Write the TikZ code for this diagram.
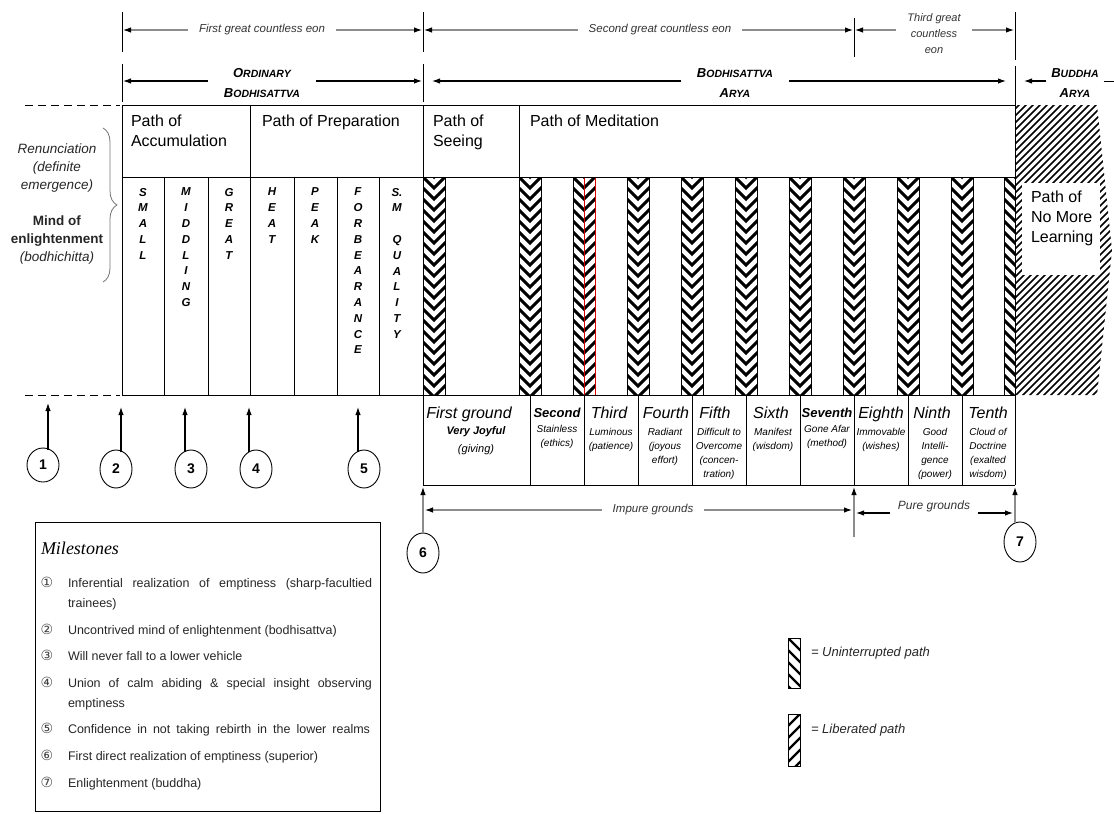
\documentclass[tikz,border=0pt]{standalone}
\usepackage{fontspec}
\setmainfont{Liberation Sans}
\newfontfamily\dejavu{DejaVu Sans}
\newfontfamily\msserif{Liberation Serif}
\usetikzlibrary{arrows.meta,shapes.geometric,decorations.pathreplacing}

\newcommand\smc[2]{{\fontsize{13}{20}\selectfont #1}{\fontsize{10.5}{20}\selectfont #2}}

\newcommand\hatchU[4]{%
  \begin{scope}
    \clip ({#1},{#2}) rectangle ({#3},{#4});
    \foreach \t in {0,11,...,242}
      \draw[hatchline] ({#3-24},{#2+\t-24}) -- ({#3+2},{#2+\t+2});
  \end{scope}}
\newcommand\hatchL[4]{%
  \begin{scope}
    \clip ({#1},{#2}) rectangle ({#3},{#4});
    \foreach \t in {0,11,...,242}
      \draw[hatchline] ({#1-2},{#2+\t+2}) -- ({#1+24},{#2+\t-24});
  \end{scope}}
\newcommand\pairat[1]{%
  \hatchU{#1-11}{177}{#1}{395}%
  \hatchL{#1}{177}{#1+11}{395}%
  \draw[pairbox] ({#1-11},177) rectangle ({#1+11},395);}

\begin{document}
\begin{tikzpicture}[x=1pt,y=-1pt,
  every node/.style={inner sep=0pt,outer sep=0pt},
  ln/.style={line width=1pt},
  tk/.style={line width=0.9pt},
  dsh/.style={line width=1pt,dash pattern=on 8pt off 5pt},
  garr/.style={draw=black!45,line width=1.1pt,-{Latex[length=8pt,width=5.5pt,color=black]}},
  barr/.style={draw=black,line width=1.1pt,-{Latex[length=8pt,width=5.5pt]}},
  hatchline/.style={line width=3pt,line cap=butt},
  pairbox/.style={line width=0.8pt},
  eon/.style={font=\itshape\fontsize{11.5}{14}\selectfont,text=black!80,inner xsep=11pt},
  scap/.style={font=\bfseries\itshape\fontsize{10.5}{20}\selectfont,align=center,inner xsep=16pt},
  hdr/.style={font=\fontsize{16}{20}\selectfont,align=left,anchor=north west},
  vlet/.style={font=\bfseries\itshape\fontsize{11.5}{15.8}\selectfont,align=center,anchor=north},
  lab/.style={font=\fontsize{13.5}{18}\selectfont,align=center,text=black!85},
  gt/.style={font=\itshape\fontsize{16}{18}\selectfont,anchor=base},
  gtb/.style={font=\bfseries\itshape\fontsize{13}{15}\selectfont,anchor=base},
  gs/.style={font=\itshape\fontsize{10}{14}\selectfont,align=center,anchor=north},
  circ/.style={draw,ellipse,line width=0.9pt,minimum width=32pt,minimum height=38pt,font=\bfseries\fontsize{14}{16}\selectfont},
  num/.style={font=\dejavu\fontsize{14}{16}\selectfont,text=black!75},
  ms/.style={anchor=north west,align=left,font=\fontsize{12.5}{20}\selectfont,text=black!85},
  lgt/.style={anchor=west,font=\itshape\fontsize{13}{15}\selectfont,text=black!85}
]
\useasboundingbox (0,0) rectangle (1114,814);

% ---------------- eons row
\draw[tk] (122,12) -- (122,52);
\draw[tk] (423,12) -- (423,52);
\draw[tk] (854,18) -- (854,57);
\draw[tk] (1015,12) -- (1015,60);
\node[eon] (e1) at (262,30) {First great countless eon};
\node[eon] (e2) at (660,30) {Second great countless eon};
\node[eon,align=center,font=\itshape\fontsize{11}{16}\selectfont] (e3) at (934,34) {Third great\\countless\\eon};
\coordinate (e1l) at (123,30); \coordinate (e1r) at (422,30);
\coordinate (e2l) at (424,30); \coordinate (e2r) at (853,30);
\coordinate (e3l) at (855,30); \coordinate (e3r) at (1014,30);
\draw[garr] (e1.west) -- (e1l); \draw[garr] (e1.east) -- (e1r);
\draw[garr] (e2.west) -- (e2l); \draw[garr] (e2.east) -- (e2r);
\draw[garr] (e3.west |- e3l) -- (e3l); \draw[garr] (e3.east |- e3r) -- (e3r);

% ---------------- beings row
\draw[tk] (122,64) -- (122,102);
\draw[tk] (423,64) -- (423,102);
\draw[tk] (1015,66) -- (1015,105);
\node[scap] (o1) at (262,83) {\smc{O}{RDINARY}\\\smc{B}{ODHISATTVA}};
\node[scap] (o2) at (735,83) {\smc{B}{ODHISATTVA}\\\smc{A}{RYA}};
\node[scap,inner xsep=5pt] (o3) at (1075,83) {\smc{B}{UDDHA}\\\smc{A}{RYA}};
\coordinate (o1l) at (123,81); \coordinate (o1r) at (422,81);
\coordinate (o2l) at (432,81); \coordinate (o2r) at (1006,81);
\coordinate (o3l) at (1024,81); \coordinate (o3r) at (1114,81);
\draw[barr] (o1.west |- o1l) -- (o1l); \draw[barr] (o1.east |- o1r) -- (o1r);
\draw[barr] (o2.west |- o2l) -- (o2l); \draw[barr] (o2.east |- o2r) -- (o2r);
\draw[barr] (o3.west |- o3l) -- (o3l); \draw[ln] (o3.east |- o3r) -- (o3r);

% ---------------- side dashes
\draw[dsh] (25,105) -- (120,105);
\draw[dsh] (25,395) -- (120,395);

% ---------------- hatched stripes
\pairat{434}
\pairat{530}
\pairat{584}
\pairat{638}
\pairat{692}
\pairat{746}
\pairat{800}
\pairat{854}
\pairat{908}
\pairat{962}
\hatchU{1004}{177}{1015}{395}
\draw[pairbox] (1004,177) rectangle (1015,395);
\draw[red!85!black,line width=0.7pt] (584,395) -- (584,177) -- (595,177) -- (595,395);

% ---------------- Buddha region
\begin{scope}
  \clip (1015,105) -- (1097,105) -- (1112,250) -- (1097,395) -- (1015,395) -- cycle;
  \foreach \t in {0,7,...,420}
    \draw[line width=1.7pt] (1005,{105+\t}) -- (1130,{105+\t-125});
\end{scope}
\node[fill=white,minimum width=78pt,minimum height=92pt,anchor=north west] (nmlbox) at (1022,183) {};
\node[hdr] (nml) at (1031,191) {Path of\\No More\\Learning};

% ---------------- frame
\draw[ln] (122,105) -- (1015,105);
\draw[ln] (122,177) -- (1015,177);
\draw[ln] (122,105) -- (122,395);
\draw[ln] (250,105) -- (250,395);
\draw[ln] (423,105) -- (423,485);
\draw[ln] (519,105) -- (519,177);
\draw[ln] (1015,105) -- (1015,485);
\foreach \cx in {164,208,294,337,379} \draw[ln] (\cx,177) -- (\cx,395);
\draw[ln] (122,395) -- (1015,395);
\draw[ln] (423,485) -- (1015,485);
\foreach \cx in {530,584,638,692,746,800,854,908,962} \draw[ln] (\cx,395) -- (\cx,485);

% ---------------- headers
\node[hdr] (pacc) at (131,115) {Path of\\Accumulation};
\node[hdr] (pprep) at (262,115) {Path of Preparation};
\node[hdr] (psee) at (433,115) {Path of\\Seeing};
\node[hdr] (pmed) at (530,115) {Path of Meditation};

% ---------------- vertical letters
\node[vlet] (c1) at (143,188) {S\\M\\A\\L\\L};
\node[vlet] (c2) at (186,188) {M\\I\\D\\D\\L\\I\\N\\G};
\node[vlet] (c3) at (229,188) {G\\R\\E\\A\\T};
\node[vlet] (c4) at (272,188) {H\\E\\A\\T};
\node[vlet] (c5) at (315,188) {P\\E\\A\\K};
\node[vlet] (c6) at (358,188) {F\\O\\R\\B\\E\\A\\R\\A\\N\\C\\E};
\node[vlet] (c7) at (397,188) {S.\\M\\~\\Q\\U\\A\\L\\I\\T\\Y};

% ---------------- left labels and brace
\node[lab,font=\itshape\fontsize{13.5}{18}\selectfont] (ren) at (57,168) {Renunciation\\(definite\\emergence)};
\node[lab] (mind) at (57,240) {\textbf{Mind of}\\\textbf{enlightenment}\\\textit{(bodhichitta)}};
\draw[black!55,line width=0.8pt,decorate,decoration={brace,amplitude=14pt}] (103,128) -- (103,282);

% ---------------- grounds
\node[gt] (g1t) at (469,418) {First ground};
\node[gtb] (g2t) at (557,417) {Second};
\node[gt] (g3t) at (609,418) {Third};
\node[gt] (g4t) at (666,418) {Fourth};
\node[gt] (g5t) at (715,418) {Fifth};
\node[gt] (g6t) at (771,418) {Sixth};
\node[gtb] (g7t) at (827,417) {Seventh};
\node[gt] (g8t) at (881,418) {Eighth};
\node[gt] (g9t) at (932,418) {Ninth};
\node[gt] (g10t) at (988,418) {Tenth};
\node[gs,font=\itshape\fontsize{11}{18}\selectfont] (g1s) at (476,427) {\textbf{Very Joyful}\\(giving)};
\node[gs] (g2s) at (557,425) {Stainless\\(ethics)};
\node[gs] (g3s) at (611,428) {Luminous\\(patience)};
\node[gs] (g4s) at (665,428) {Radiant\\(joyous\\effort)};
\node[gs] (g5s) at (719,428) {Difficult to\\Overcome\\(concen-\\tration)};
\node[gs] (g6s) at (773,428) {Manifest\\(wisdom)};
\node[gs] (g7s) at (827,425) {Gone Afar\\(method)};
\node[gs] (g8s) at (881,428) {Immovable\\(wishes)};
\node[gs] (g9s) at (935,428) {Good\\Intelli-\\gence\\(power)};
\node[gs] (g10s) at (988,428) {Cloud of\\Doctrine\\(exalted\\wisdom)};

% ---------------- milestone circles
\node[circ,minimum height=34pt] (m1) at (43,465) {1};
\node[circ] (m2) at (116,469) {2};
\node[circ] (m3) at (191,469) {3};
\node[circ] (m4) at (256,469) {4};
\node[circ] (m5) at (364,469) {5};
\node[circ,minimum height=40pt] (m6) at (423,553) {6};
\node[circ,minimum height=40pt] (m7) at (1020,542) {7};
\coordinate (a1) at (48,403);
\coordinate (a2) at (121,407);
\coordinate (a3) at (185,407);
\coordinate (a4) at (249,407);
\coordinate (a5) at (358,407);
\draw[barr,shorten <=-2pt] (m1.north -| a1) -- (a1);
\draw[barr,shorten <=-2pt] (m2.north -| a2) -- (a2);
\draw[barr,shorten <=-2pt] (m3.north -| a3) -- (a3);
\draw[barr,shorten <=-2pt] (m4.north -| a4) -- (a4);
\draw[barr,shorten <=-2pt] (m5.north -| a5) -- (a5);
\coordinate (a6) at (423,487);
\draw[garr] (m6.north) -- (a6);
\coordinate (a7) at (1015,487);
\draw[garr,shorten <=-1pt] (m7.north -| a7) -- (a7);
\coordinate (a8t) at (854,487); \coordinate (a8b) at (854,537);
\draw[garr] (a8b) -- (a8t);

% ---------------- impure / pure grounds
\node[eon,font=\itshape\fontsize{11.5}{14}\selectfont] (imp) at (653,510) {Impure grounds};
\coordinate (impl) at (425,510); \coordinate (impr) at (852,510);
\draw[garr] (imp.west) -- (impl); \draw[garr] (imp.east) -- (impr);
\node[eon,font=\itshape\fontsize{12}{14}\selectfont,inner xsep=8pt] (pure) at (934,506) {Pure grounds};
\coordinate (purel) at (856,513); \coordinate (purer) at (1013,513);
\draw[barr] (pure.west |- purel) -- (purel); \draw[barr] (pure.east |- purer) -- (purer);

% ---------------- milestones box
\node[draw,line width=1pt,minimum width=345pt,minimum height=289pt,anchor=north west] (msbox) at (35,522) {};
\node[anchor=base west,font=\msserif\itshape\fontsize{18}{20}\selectfont] (mst) at (41,554) {Milestones};
\node[num] (n1) at (47,582) {①};
\node[num] (n2) at (47,629) {②};
\node[num] (n3) at (47,655) {③};
\node[num] (n4) at (47,682) {④};
\node[num] (n5) at (47,728) {⑤};
\node[num] (n6) at (47,755) {⑥};
\node[num] (n7) at (47,782) {⑦};
\node[ms] (t1) at (68,578) {\makebox[304pt][s]{Inferential realization of emptiness (sharp-facultied}\\trainees)};
\node[ms] (t2) at (68,625) {Uncontrived mind of enlightenment (bodhisattva)};
\node[ms] (t3) at (68,651) {Will never fall to a lower vehicle};
\node[ms] (t4) at (68,678) {\makebox[304pt][s]{Union of calm abiding \& special insight observing}\\emptiness};
\node[ms] (t5) at (68,724) {\makebox[302pt][s]{Confidence in not taking rebirth in the lower realms}};
\node[ms] (t6) at (68,751) {First direct realization of emptiness (superior)};
\node[ms] (t7) at (68,778) {Enlightenment (buddha)};

% ---------------- legend
\begin{scope}
  \clip (788,638) rectangle (800,688);
  \foreach \t in {0,12,...,84}
    \draw[line width=2.4pt] (776,{638+\t-24}) -- (802,{638+\t+2});
\end{scope}
\begin{scope}
  \clip (788,714) rectangle (800,766);
  \foreach \t in {0,12,...,84}
    \draw[line width=2.4pt] (786,{714+\t+2}) -- (812,{714+\t-24});
\end{scope}
\node[draw,line width=0.9pt,minimum width=12pt,minimum height=50pt,anchor=north west] (lgU) at (788,638) {};
\node[draw,line width=0.9pt,minimum width=12pt,minimum height=52pt,anchor=north west] (lgL) at (788,714) {};
\node[lgt] (lgUt) at (811,653) {= Uninterrupted path};
\node[lgt] (lgLt) at (811,730) {= Liberated path};
\end{tikzpicture}
\end{document}
